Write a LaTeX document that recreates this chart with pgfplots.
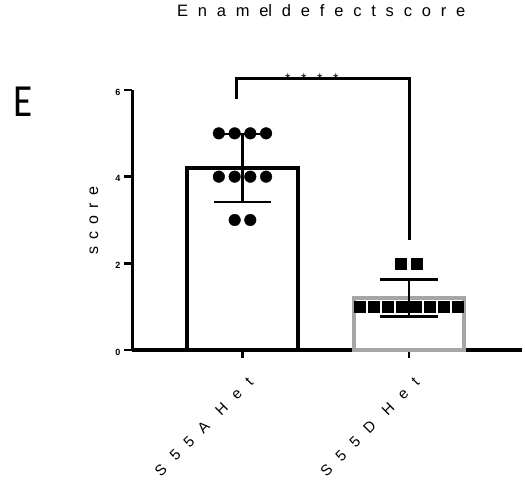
\documentclass[border=0pt]{standalone}
\usepackage{fontspec}
\setmainfont{Liberation Sans}
\newfontfamily\panelfont{Carlito}
\usepackage{pgfplots}
\pgfplotsset{compat=1.18}
\definecolor{bargray}{HTML}{A6A6A6}
\newcommand\gt{\hspace{9.8bp}}
\newcommand\gy{\hspace{7.25bp}}
\newcommand\gx{\hspace{11.3bp}}
\newcommand\gs{\hspace{10.5bp}}
\begin{document}
\begin{tikzpicture}
\useasboundingbox (0,0) rectangle (525bp,480bp);
\begin{axis}[
  at={(132bp,130bp)}, anchor=south west,
  scale only axis, width=390bp, height=260bp,
  xmin=0.336, xmax=2.68, ymin=0, ymax=6,
  clip=false,
  axis x line=bottom, axis y line=left,
  axis line style={-, line width=3bp, black},
  xtick={1,2}, xticklabels={S\gx5\gx5\gx A\gx\hspace{4bp}H\gx e\gx t, S\gx5\gx5\gx D\gx\hspace{4bp}H\gx e\gx t},
  ytick={0,2,4,6},
  tick align=outside, major tick length=8bp,
  tick style={line width=2.5bp, black},
  /pgf/number format/assume math mode=true,
  yticklabel style={font=\fontsize{9bp}{10bp}\selectfont\bfseries, yshift=-2bp},
  xticklabel style={font=\fontsize{15bp}{17bp}\selectfont, shift={(8bp,-22bp)}, rotate=45, anchor=east, inner sep=0pt},
  ylabel={s\gy c\gy o\gy r\gy e},
  ylabel style={font=\fontsize{16bp}{18bp}\selectfont, at={(axis description cs:-0.0975,0.497)}, anchor=center},
  title={E\gt n\gt a\gt m\gt el\gt d\gt e\gt f\gt e\gt c\gt t\gt s\gt c\gt o\gt r\gt e},
  title style={font=\fontsize{16.5bp}{19bp}\selectfont, at={(axis description cs:0.485,1.2615)}, anchor=base},
]
% bars
\addplot[ybar, bar width=0.665, draw=black, line width=4bp, fill=white] coordinates {(1,4.2)};
\addplot[ybar, bar width=0.665, draw=bargray, line width=4bp, fill=white] coordinates {(2,1.2)};
% points
\addplot[only marks, mark=*, mark size=5.8bp, black] coordinates {
(0.858,5) (0.953,5) (1.047,5) (1.142,5)
(0.858,4) (0.953,4) (1.047,4) (1.142,4)
(0.953,3) (1.047,3)};
\addplot[only marks, mark=square*, mark size=5.5bp, black] coordinates {
(1.707,1) (1.791,1) (1.875,1) (1.958,1) (2.042,1) (2.125,1) (2.209,1) (2.293,1)
(1.952,2) (2.048,2)};
% error bars (mean +- SD)
\addplot[draw=none, error bars/.cd, y dir=both, y explicit,
  error bar style={line width=2.5bp, black},
  error mark options={rotate=90, line width=2.5bp, mark size=28.5bp, black}]
  coordinates {(1,4.2) +- (0,0.789)};
\addplot[draw=none, error bars/.cd, y dir=both, y explicit,
  error bar style={line width=2.5bp, black},
  error mark options={rotate=90, line width=2.5bp, mark size=29bp, black}]
  coordinates {(2,1.2) +- (0,0.422)};
% significance bracket
\addplot[black, line width=3bp, mark=none, sharp plot] coordinates {(0.965,5.79) (0.965,6.27) (2.005,6.27) (2.005,2.54)};
\node[font=\fontsize{14bp}{16bp}\selectfont, anchor=base] at (axis cs:1.417,6.15) {*\gs*\gs*\gs*};
\end{axis}
\node[font=\panelfont\fontsize{46bp}{50bp}\selectfont, anchor=base west, xscale=0.85, inner sep=0pt] at (13bp,363bp) {E};
\end{tikzpicture}
\end{document}
